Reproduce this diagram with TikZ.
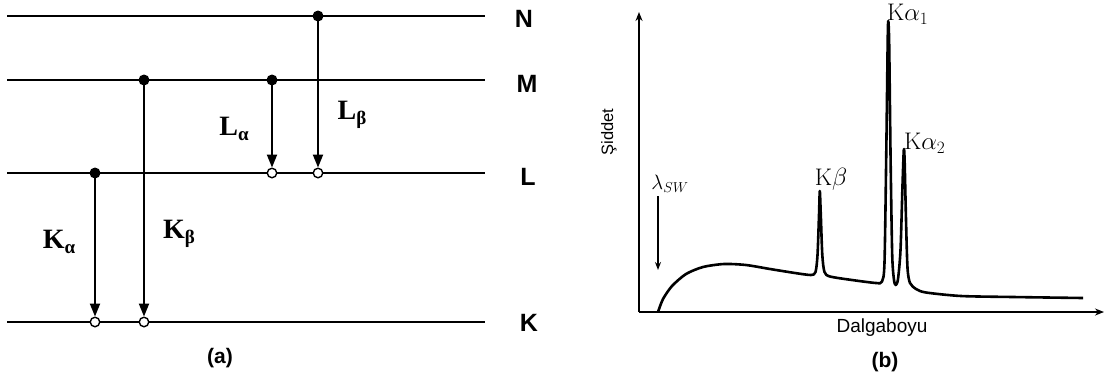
\documentclass[tikz,border=0pt]{standalone}
\usepackage[no-math]{fontspec}
\usetikzlibrary{arrows.meta}
\newfontfamily\serifb{Liberation Serif}[BoldFont={Liberation Serif Bold}]
\newfontfamily\sansf{Liberation Sans}[BoldFont={Liberation Sans Bold}]
\newcommand{\translab}[2]{{\serifb\bfseries\fontsize{28}{28}\selectfont #1\raisebox{-5pt}{\fontsize{19}{19}\selectfont #2}}}
\tikzset{
  level/.style={line width=1.8pt},
  fdot/.style={circle,fill=black,inner sep=0pt,minimum size=11pt},
  odot/.style={circle,draw=black,fill=white,line width=1.4pt,inner sep=0pt,minimum size=9.5pt},
  trans/.style={line width=2pt,-{Triangle[width=10pt,length=13pt]},shorten <=-3pt},
  lvlab/.style={font=\sansf\bfseries\fontsize{25}{25}\selectfont,anchor=center},
  captionlab/.style={font=\sansf\bfseries\fontsize{21}{21}\selectfont},
  axisline/.style={line width=2.8pt,-{Stealth[length=9pt,width=7pt]}},
  peaklab/.style={font=\fontsize{24}{24}\selectfont,inner sep=0pt}
}
\begin{document}
\begin{tikzpicture}[x=1pt,y=-1pt]
\useasboundingbox (0,0) rectangle (1107,376);
% ---------- (a) energy levels ----------
\coordinate (Nl) at (7,16);  \coordinate (Nr) at (485,16);
\coordinate (Ml) at (7,80);  \coordinate (Mr) at (485,80);
\coordinate (Ll) at (7,173); \coordinate (Lr) at (485,173);
\coordinate (Kl) at (7,322); \coordinate (Kr) at (485,322);
\draw[level] (Nl) -- (Nr);
\draw[level] (Ml) -- (Mr);
\draw[level] (Ll) -- (Lr);
\draw[level] (Kl) -- (Kr);
\node[lvlab] (labN) at (524,19) {N};
\node[lvlab] (labM) at (527,84) {M};
\node[lvlab] (labL) at (528,177) {L};
\node[lvlab] (labK) at (529,323) {K};
% transitions
\node[fdot] (ka1) at (95,173) {};  \node[odot] (ka2) at (95,322) {};
\node[fdot] (kb1) at (144,80) {};  \node[odot] (kb2) at (144,322) {};
\node[fdot] (la1) at (272,80) {};  \node[odot] (la2) at (272,173) {};
\node[fdot] (lb1) at (318,16) {};  \node[odot] (lb2) at (318,173) {};
\draw[trans] (ka1) -- (ka2);
\draw[trans] (kb1) -- (kb2);
\draw[trans] (la1) -- (la2);
\draw[trans] (lb1) -- (lb2);
\node (tKa) at (59,242) {\translab{K}{α}};
\node (tKb) at (179,234) {\translab{K}{β}};
\node (tLa) at (234,129) {\translab{L}{α}};
\node (tLb) at (352,115) {\translab{L}{β}};
\node[captionlab] (capa) at (220,358) {(a)};
% ---------- (b) spectrum ----------
\coordinate (O) at (639,312);
\coordinate (Ytop) at (639,12);
\coordinate (Xend) at (1104,312);
\draw[axisline] (O) -- (Ytop);
\draw[axisline] (O) -- (Xend);
\node[font=\sansf\fontsize{16.5}{16.5}\selectfont,rotate=90] (ylab) at (609,132) {Şiddet};
\node[font=\sansf\fontsize{19}{19}\selectfont] (xlab) at (882,328) {Dalgaboyu};
\node[captionlab] (capb) at (885,362) {(b)};
% lambda_SW
\node[font=\fontsize{22}{22}\selectfont,inner sep=0pt] (lsw) at (670,184) {$\lambda_{SW}$};
\coordinate (lswtip) at (658,270);
\draw[line width=1.6pt,-{Stealth[length=8pt,width=6pt]}] (658,196) -- (lswtip);
% curve
\draw[line width=2.6pt,line join=round] plot[smooth,tension=0.45] coordinates {
 (658,312) (663,299) (672,286) (686,274) (703,267) (724,264) (746,265) (770,269) (795,273) (811,275)
 (815.5,272) (817.5,255) (819,215) (819.8,191) (820.8,215) (822.3,255) (824.5,272) (830,276.5)
 (852,280) (876,283) (882,281.5) (884.5,262) (886.3,150) (887.7,40) (888.3,21) (889.2,45) (890.6,160) (892.2,255) (894,280) (895.8,285)
 (898,279) (900.5,250) (902.5,185) (903.8,150) (904.6,160) (906,220) (907.5,268) (910,283) (916,289) (926,292.5)
 (961,296) (1013,297) (1083,298)};
\node[peaklab,anchor=south] (lKb) at (831,191) {K$\beta$};
\node[peaklab,anchor=west] (lKa1) at (887,14) {K$\alpha_1$};
\node[peaklab,anchor=west] (lKa2) at (904,143) {K$\alpha_2$};
\end{tikzpicture}
\end{document}
